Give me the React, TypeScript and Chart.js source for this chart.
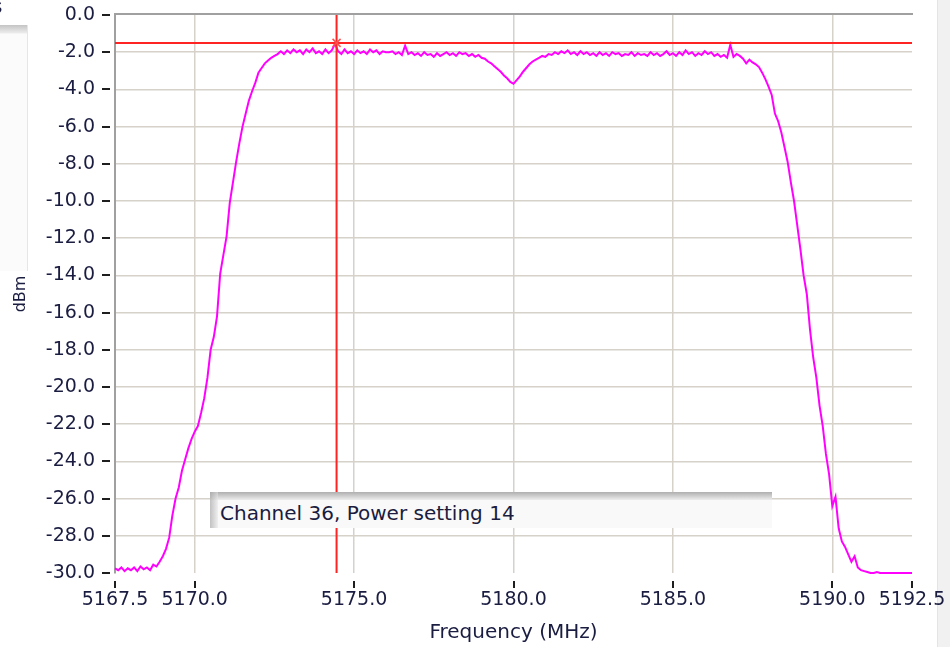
import React, { useEffect, useRef } from "react";
import { Chart, registerables } from "chart.js";

Chart.register(...registerables);

// Spectrum trace: one level per frequency bin, bins start at FREQ_START and are FREQ_STEP apart
const FREQ_START = 5167.5;
const FREQ_STEP = 0.1;
const LEVELS = [
  -29.75, -29.85, -29.7, -29.9, -29.75, -29.85, -29.7, -29.9, -29.65, -29.8,
  -29.7, -29.85, -29.55, -29.65, -29.4, -29.1, -28.7, -28.1, -26.9, -26.0,
  -25.4, -24.5, -23.9, -23.3, -22.8, -22.4, -22.1, -21.4, -20.6, -19.5,
  -18.0, -17.3, -16.2, -13.9, -12.9, -11.9, -10.1, -9.0, -7.9, -6.9,
  -6.0, -5.3, -4.6, -4.1, -3.65, -3.1, -2.85, -2.6, -2.45, -2.3,
  -2.2, -2.1, -1.95, -2.1, -1.9, -2.05, -1.85, -2.0, -1.9, -2.1,
  -1.85, -2.0, -1.8, -2.05, -1.95, -2.1, -1.85, -2.05, -1.9, -1.55,
  -1.95, -2.1, -1.85, -2.05, -1.95, -2.1, -1.9, -2.05, -1.95, -2.1,
  -1.85, -2.0, -1.9, -2.1, -1.95, -2.0, -2.0, -1.95, -2.1, -2.0,
  -2.15, -1.65, -2.1, -2.0, -2.15, -2.05, -2.2, -2.0, -2.15, -2.1,
  -2.25, -2.05, -2.2, -2.1, -2.0, -2.15, -2.05, -2.2, -2.0, -2.1,
  -2.05, -2.2, -2.1, -2.25, -2.15, -2.3, -2.35, -2.5, -2.6, -2.75,
  -2.9, -3.05, -3.25, -3.4, -3.6, -3.7, -3.5, -3.3, -3.05, -2.85,
  -2.65, -2.5, -2.4, -2.3, -2.2, -2.25, -2.1, -2.15, -2.0, -2.1,
  -1.95, -2.05, -1.9, -2.1, -2.0, -2.15, -1.95, -2.1, -2.0, -2.15,
  -2.05, -2.2, -2.0, -2.15, -2.05, -2.2, -2.0, -2.1, -2.05, -2.2,
  -2.1, -2.15, -2.0, -2.2, -2.05, -2.15, -2.1, -2.2, -2.0, -2.15,
  -2.05, -2.2, -2.1, -1.95, -2.15, -2.05, -2.2, -2.0, -2.15, -1.9,
  -2.1, -2.0, -2.2, -2.05, -2.15, -1.95, -2.1, -2.0, -2.2, -2.1,
  -2.25, -2.15, -2.3, -1.6, -2.25, -2.1, -2.2, -2.35, -2.6, -2.4,
  -2.55, -2.65, -2.8, -3.1, -3.45, -3.85, -4.3, -5.3, -5.7, -6.3,
  -7.1, -7.9, -9.0, -10.0, -11.3, -12.6, -14.0, -15.0, -16.9, -18.4,
  -19.5, -21.0, -22.1, -23.6, -24.7, -26.4, -25.9, -27.6, -28.3, -28.6,
  -29.0, -29.4, -29.1, -29.7, -29.85, -29.9, -29.95, -30.0, -30.0, -29.95,
  -30.0, -30.0, -30.0, -30.0, -30.0, -30.0, -30.0, -30.0, -30.0, -30.0,
  -30.0,
];

const X_TICKS = [5167.5, 5170, 5175, 5180, 5185, 5190, 5192.5];
const X_MIN = 5167.5;
const X_MAX = 5192.5;
const Y_MIN = -30;
const Y_MAX = 0;
const Y_STEP = 2;

// Marker cursor
const CURSOR_FREQ = 5174.45;
const CURSOR_LEVEL = -1.5;

const PLOT_LABEL = "Channel 36, Power setting 14";
const X_TITLE = "Frequency (MHz)";
const Y_TITLE = "dBm";

const FONT = "'DejaVu Sans', sans-serif";
const TEXT_COLOR = "#1a1c40";
const GRID_COLOR = "#d6d2ca";
const FRAME_COLOR = "#a0a0a0";
const TRACE_COLOR = "#ff00ff";
const CURSOR_COLOR = "#ff2424";

const framePlugin = {
  id: "frame",
  afterDatasetsDraw(chart: any) {
    const { ctx, chartArea } = chart;
    const xs = chart.scales.x;
    const ys = chart.scales.y;
    const cx = xs.getPixelForValue(CURSOR_FREQ);
    const cy = ys.getPixelForValue(CURSOR_LEVEL);
    ctx.save();
    ctx.strokeStyle = CURSOR_COLOR;
    ctx.lineWidth = 2;
    ctx.beginPath();
    ctx.moveTo(cx, chartArea.top);
    ctx.lineTo(cx, chartArea.bottom);
    ctx.moveTo(chartArea.left, cy);
    ctx.lineTo(chartArea.right, cy);
    ctx.stroke();
    // cross marker at the cursor point
    ctx.lineWidth = 1.5;
    ctx.strokeStyle = "#ff5050";
    ctx.beginPath();
    ctx.moveTo(cx - 4, cy - 4);
    ctx.lineTo(cx + 4, cy + 4);
    ctx.moveTo(cx + 4, cy - 4);
    ctx.lineTo(cx - 4, cy + 4);
    ctx.stroke();
    ctx.restore();
  },
  afterDraw(chart: any) {
    const { ctx, chartArea } = chart;
    const xs = chart.scales.x;
    const ys = chart.scales.y;
    ctx.save();
    // top edge of the plot frame
    ctx.strokeStyle = FRAME_COLOR;
    ctx.lineWidth = 2;
    ctx.beginPath();
    ctx.moveTo(chartArea.left - 1, chartArea.top - 1);
    ctx.lineTo(chartArea.right + 1, chartArea.top - 1);
    ctx.stroke();
    // short tick marks next to the labels
    ctx.strokeStyle = "#1e1e1e";
    ctx.lineWidth = 2;
    ctx.beginPath();
    ys.ticks.forEach((t: any) => {
      const y = Math.round(ys.getPixelForValue(t.value));
      ctx.moveTo(chartArea.left - 13, y);
      ctx.lineTo(chartArea.left - 5, y);
    });
    xs.ticks.forEach((t: any) => {
      const x = Math.round(xs.getPixelForValue(t.value));
      ctx.moveTo(x, chartArea.bottom + 8);
      ctx.lineTo(x, chartArea.bottom + 15);
    });
    ctx.stroke();
    ctx.restore();
  },
};

export default function App() {
  const canvasRef = useRef<HTMLCanvasElement | null>(null);

  useEffect(() => {
    const canvas = canvasRef.current;
    if (!canvas) return;
    const points = LEVELS.map((v, i) => ({ x: FREQ_START + i * FREQ_STEP, y: v }));

    const chart = new Chart(canvas, {
      type: "line",
      data: {
        datasets: [
          {
            data: points,
            borderColor: TRACE_COLOR,
            borderWidth: 2,
            pointRadius: 0,
            tension: 0,
            clip: 4,
          } as any,
        ],
      },
      options: {
        animation: false,
        responsive: false,
        devicePixelRatio: 1,
        events: [],
        layout: { padding: { top: 15, right: 38, left: 0, bottom: 0 } },
        plugins: {
          legend: { display: false },
          tooltip: { enabled: false },
        },
        scales: {
          x: {
            type: "linear",
            min: X_MIN,
            max: X_MAX,
            afterBuildTicks: (scale: any) => {
              scale.ticks = X_TICKS.map((v) => ({ value: v }));
            },
            afterFit: (scale: any) => {
              scale.height = 74;
              scale.paddingLeft = 0;
              scale.paddingRight = 0;
              scale.paddingTop = 0;
              scale.paddingBottom = 0;
            },
            grid: {
              drawTicks: false,
              lineWidth: 1.5,
              color: (c: any) =>
                c.tick && (c.tick.value === X_MIN || c.tick.value === X_MAX)
                  ? "rgba(0,0,0,0)"
                  : GRID_COLOR,
            },
            border: { display: false },
            ticks: {
              autoSkip: false,
              maxRotation: 0,
              padding: 16,
              color: TEXT_COLOR,
              font: { family: FONT, size: 19 },
              callback: (v: any) => Number(v).toFixed(1),
            },
            title: {
              display: true,
              text: X_TITLE,
              color: TEXT_COLOR,
              font: { family: FONT, size: 20 },
              padding: { top: 0, bottom: 2 },
            },
          },
          y: {
            type: "linear",
            min: Y_MIN,
            max: Y_MAX,
            afterFit: (scale: any) => {
              scale.width = 115;
              scale.paddingLeft = 0;
              scale.paddingRight = 0;
              scale.paddingTop = 0;
              scale.paddingBottom = 0;
            },
            grid: {
              drawTicks: false,
              lineWidth: 1.5,
              color: (c: any) =>
                c.tick && (c.tick.value === Y_MIN || c.tick.value === Y_MAX)
                  ? "rgba(0,0,0,0)"
                  : GRID_COLOR,
            },
            border: { display: true, color: FRAME_COLOR, width: 2 },
            ticks: {
              stepSize: Y_STEP,
              autoSkip: false,
              padding: 20,
              color: TEXT_COLOR,
              font: { family: FONT, size: 19 },
              callback: (v: any) => Number(v).toFixed(1),
            },
            title: {
              display: true,
              text: Y_TITLE,
              color: TEXT_COLOR,
              font: { family: FONT, size: 16 },
              padding: { top: 11, bottom: 0 },
            },
          },
        },
      },
      plugins: [framePlugin],
    });

    return () => chart.destroy();
  }, []);

  return (
    <div
      style={{
        position: "fixed",
        left: 0,
        top: 0,
        width: 950,
        height: 647,
        background: "#ffffff",
        overflow: "hidden",
        fontFamily: FONT,
      }}
    >
      {/* right window edge, behind the chart canvas */}
      <div
        style={{
          position: "absolute",
          left: 937,
          top: 0,
          width: 13,
          height: 647,
          background: "#f1f1f1",
          borderLeft: "1px solid #e4e4e4",
        }}
      />
      <canvas
        ref={canvasRef}
        width={950}
        height={647}
        style={{ position: "absolute", left: 0, top: 0, width: 950, height: 647 }}
      />
      {/* side panel edge at the left */}
      <div
        style={{
          position: "absolute",
          left: -8,
          top: -6,
          fontSize: 20,
          color: TEXT_COLOR,
          lineHeight: "24px",
        }}
      >
        s
      </div>
      <div
        style={{
          position: "absolute",
          left: 0,
          top: 25,
          width: 27,
          height: 246,
          background: "linear-gradient(to bottom, #c4c4c4 0px, #ececec 8px, #fbfbfb 9px, #fbfbfb 100%)",
          borderRight: "1px solid #e6e6e6",
        }}
      />
      {/* plot caption box */}
      <div
        style={{
          position: "absolute",
          left: 210,
          top: 492,
          width: 562,
          height: 36,
          background: "#f9f9f9",
          boxSizing: "border-box",
        }}
      >
        <div
          style={{
            position: "absolute",
            left: 0,
            top: 0,
            width: "100%",
            height: 8,
            background: "linear-gradient(to bottom, rgba(150,150,150,0.75), rgba(225,225,225,0.5))",
          }}
        />
        <div
          style={{
            position: "absolute",
            left: 0,
            top: 0,
            width: 8,
            height: "100%",
            background: "linear-gradient(to right, rgba(170,170,170,0.7), rgba(230,230,230,0.5))",
          }}
        />
        <div
          style={{
            position: "absolute",
            left: 10,
            top: 8,
            fontSize: 20,
            lineHeight: "26px",
            color: TEXT_COLOR,
            whiteSpace: "nowrap",
          }}
        >
          {PLOT_LABEL}
        </div>
      </div>
    </div>
  );
}
